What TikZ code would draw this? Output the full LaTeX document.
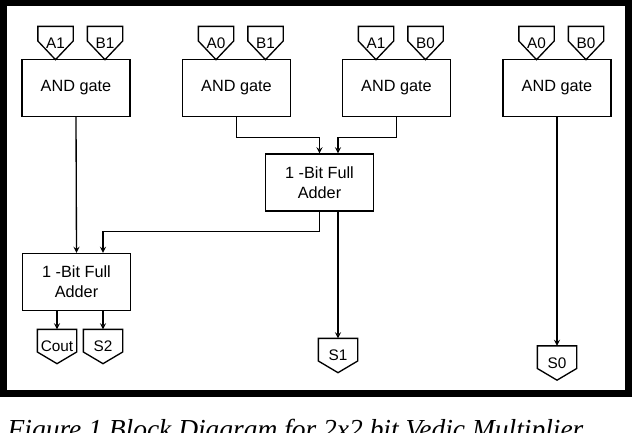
\documentclass[tikz,border=0pt]{standalone}
\usepackage{fontspec}
\setmainfont{Liberation Serif}
\setsansfont{Liberation Sans}
\usetikzlibrary{arrows}
\usetikzlibrary{calc}

\tikzset{
	gate/.style={draw=black,line width=1pt,minimum width=81pt,minimum height=42.75pt,inner sep=0pt,align=center,font=\sffamily\fontsize{12.2}{15}\selectfont},
	pinin/.style={minimum width=25.5pt,minimum height=24pt,inner sep=0pt,font=\sffamily\fontsize{11.5}{13}\selectfont,
		append after command={\pgfextra{\draw[line width=1pt,line join=miter]
			(\tikzlastnode.north west) -- (\tikzlastnode.north east)
			-- ($(\tikzlastnode.north east)!0.44!(\tikzlastnode.south east)$)
			-- (\tikzlastnode.south)
			-- ($(\tikzlastnode.north west)!0.44!(\tikzlastnode.south west)$) -- cycle;}}},
	pinout/.style={minimum width=28.5pt,minimum height=24.75pt,inner sep=0pt,font=\sffamily\fontsize{11.5}{13}\selectfont,
		append after command={\pgfextra{\draw[line width=1pt,line join=miter]
			(\tikzlastnode.north west) -- (\tikzlastnode.north east)
			-- ($(\tikzlastnode.north east)!0.66!(\tikzlastnode.south east)$)
			-- (\tikzlastnode.south)
			-- ($(\tikzlastnode.north west)!0.66!(\tikzlastnode.south west)$) -- cycle;}}}
}

\begin{document}
\begin{tikzpicture}[x=0.75pt,y=-0.75pt,line width=1pt,>=stealth]
	\useasboundingbox (0,0) rectangle (634,432);
	\clip (0,0) rectangle (634,432);

	\draw[line width=4.8pt] (3.5,3) rectangle (628.5,393.5);

	% partial products
	\foreach \g/\x/\a/\b in {1/76/A1/B1, 2/236.5/A0/B1, 3/396.5/A1/B0, 4/557/A0/B0} {
		\node[gate] (and\g) at (\x,88) {AND gate};
		\node[pinin] (a\g) at (\x-20.5,43) {\a};
		\node[pinin] (b\g) at (\x+29,43) {\b};
	}

	% adders
	\node[gate] (fa1) at (319.5,182.5) {1 -Bit Full\\Adder};
	\node[gate] (fa2) at (76.5,282) {1 -Bit Full\\Adder};

	% outputs
	\node[pinout] (cout) at (57,346.5) {Cout};
	\node[pinout] (s2) at (103,346.5) {S2};
	\node[pinout] (s1) at (338,355.5) {S1};
	\node[pinout] (s0) at (557,363) {S0};

	\draw[->] (and2.south) -- ++(0,20) -| (fa1.north);
	\draw[->] (and3.south) -- ++(0,20) -| (s1 |- fa1.north);
	\draw[->] (and1.south) -- (fa2.north);
	\draw[->] (fa1.south) -- ++(0,20) -| (s2 |- fa2.north);
	\draw[->] (fa1.south -| s1) -- (s1.north);
	\draw[->] (and4.south) -- (s0.north);
	\draw[->] (fa2.south -| cout) -- (cout.north);
	\draw[->] (fa2.south -| s2) -- (s2.north);

	\node[anchor=base west,inner sep=0pt,font=\itshape\fontsize{20.6}{24}\selectfont] (caption) at (7,438) {Figure 1 Block Diagram for 2x2 bit Vedic Multiplier};
\end{tikzpicture}
\end{document}
